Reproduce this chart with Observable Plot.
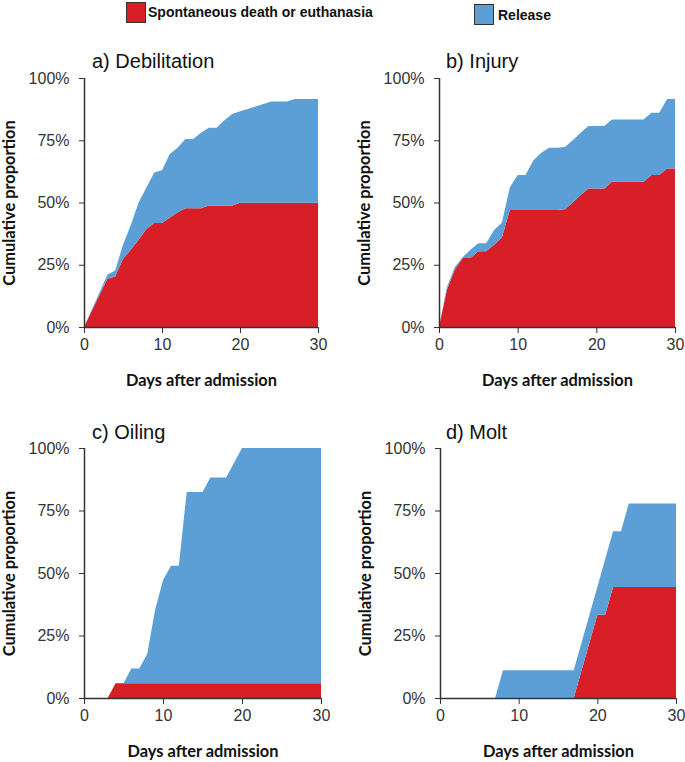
<!DOCTYPE html>
<html><head><meta charset="utf-8">
<script src="https://cdn.jsdelivr.net/npm/d3@7"></script>
<script src="https://cdn.jsdelivr.net/npm/@observablehq/plot@0.6"></script>
<style>
body{margin:0;background:#fff;}
#wrap{position:relative;width:685px;height:762px;overflow:hidden;font-family:"Liberation Sans",Arial,sans-serif;}
.panel{position:absolute;}
.title{position:absolute;font-size:20px;line-height:20px;color:#111;white-space:nowrap;}
.legtext{position:absolute;font-weight:bold;font-size:14px;line-height:14px;color:#111;white-space:nowrap;}
.sw{position:absolute;box-sizing:border-box;border:1.5px solid #333;}
g[aria-label="x-axis label"] text, g[aria-label="y-axis label"] text{font-family:Lato,"Liberation Sans",sans-serif !important;font-weight:bold !important;font-size:16.4px !important;fill:#111;}
</style>
</head><body>
<div id="wrap"></div>
<script>
const days = d3.range(0, 31);
const seriesNames = ["Spontaneous death or euthanasia", "Release"];
const colors = ["#d81e27", "#5b9fd6"];
const xTicks = [0, 10, 20, 30];
const yTicks = [0, 25, 50, 75, 100];
const titles = ["a) Debilitation", "b) Injury", "c) Oiling", "d) Molt"];

// a) Debilitation
const deathA = [0,6.5,13,19.4,20.3,27.4,31,35,39.4,41.8,41.8,44,46,47.7,47.7,47.7,48.8,48.8,48.8,48.8,49.9,49.9,49.9,49.9,49.9,49.9,49.9,49.9,49.9,49.9,49.9];
const totalA = [0,7,14,21,22.7,33,41,50,56,62,63,69.5,72,75.5,75.5,78,80,80,83,85.5,86.6,87.6,88.6,89.6,90.6,90.6,90.6,91.6,91.6,91.6,91.6];
// b) Injury
const deathB = [0,15,23,27.7,27.7,30.4,30.4,33,36,47,47,47,47,47,47,47,47.3,50,53,55.6,55.6,55.6,58.3,58.3,58.3,58.3,58.3,61,61,63.7,63.7];
const totalB = [0,16,24,28,31,33.6,33.6,39,42,56,61,61,67,70,72,72,72.3,75,78,80.7,80.7,80.7,83.3,83.3,83.3,83.3,83.3,86,86,91.6,91.6];
// c) Oiling
const deathC = [0,0,0,0,5.9,5.9,5.9,5.9,5.9,5.9,5.9,5.9,5.9,5.9,5.9,5.9,5.9,5.9,5.9,5.9,5.9,5.9,5.9,5.9,5.9,5.9,5.9,5.9,5.9,5.9,5.9];
const totalC = [0,0,0,0,5.9,5.9,11.8,11.8,17.6,35.3,47.1,52.9,52.9,82.4,82.4,82.4,88.2,88.2,88.2,94.1,100,100,100,100,100,100,100,100,100,100,100];
// d) Molt
const deathD = [0,0,0,0,0,0,0,0,0,0,0,0,0,0,0,0,0,0,11.1,22.2,33.3,33.3,44.4,44.4,44.4,44.4,44.4,44.4,44.4,44.4,44.4];
const totalD = [0,0,0,0,0,0,0,0,11.1,11.1,11.1,11.1,11.1,11.1,11.1,11.1,11.1,11.1,22.2,33.3,44.4,55.6,66.7,66.7,77.8,77.8,77.8,77.8,77.8,77.8,77.8];

function panelData(death, total) {
  return seriesNames.flatMap((s, i) => days.map((d, j) => ({
    day: d, series: s, value: i === 0 ? death[j] : total[j] - death[j]
  })));
}

const panels = [
  {death: deathA, total: totalA, left: 0,   top: 40,  width: 340, height: 360, ml: 84, mr: 22, mt: 38, mb: 73, tl: 92,  tt: 51},
  {death: deathB, total: totalB, left: 342, top: 40,  width: 343, height: 360, ml: 97, mr: 10, mt: 38, mb: 73, tl: 446, tt: 51},
  {death: deathC, total: totalC, left: 0,   top: 410, width: 340, height: 352, ml: 84, mr: 19, mt: 38, mb: 64, tl: 92,  tt: 422},
  {death: deathD, total: totalD, left: 342, top: 410, width: 343, height: 352, ml: 98, mr: 9,  mt: 38, mb: 64, tl: 446, tt: 422}
];

const wrap = document.getElementById("wrap");

panels.forEach((p, k) => {
  const chart = Plot.plot({
    width: p.width, height: p.height,
    marginLeft: p.ml, marginRight: p.mr, marginTop: p.mt, marginBottom: p.mb,
    style: {fontFamily: "'Liberation Sans', Arial, sans-serif", fontSize: "16px", color: "#333", background: "transparent", overflow: "visible"},
    x: {domain: [0, 30]},
    y: {domain: [0, 100]},
    color: {domain: seriesNames, range: colors},
    marks: [
      Plot.areaY(panelData(p.death, p.total), {x: "day", y: "value", fill: "series", curve: "linear"}),
      Plot.ruleX([0], {stroke: "#333", strokeWidth: 1.5}),
      Plot.ruleY([0], {stroke: "#333", strokeWidth: 1.5}),
      Plot.axisX({ticks: xTicks, tickSize: 6, tickPadding: 5, stroke: "#333", label: "Days after admission", labelAnchor: "center", labelArrow: "none", labelOffset: 58}),
      Plot.axisY({ticks: yTicks, tickFormat: d => d + "%", tickSize: 5, tickPadding: 10, stroke: "#333", label: "Cumulative proportion", labelAnchor: "center", labelArrow: "none", labelOffset: 81})
    ]
  });
  const div = document.createElement("div");
  div.className = "panel";
  div.style.left = p.left + "px";
  div.style.top = p.top + "px";
  div.appendChild(chart);
  wrap.appendChild(div);
  const t = document.createElement("div");
  t.className = "title";
  t.style.left = p.tl + "px";
  t.style.top = p.tt + "px";
  t.textContent = titles[k];
  wrap.appendChild(t);
});

// legend
const legendPos = [{sx: 126, sy: 2, tx: 148, ty: 5}, {sx: 474, sy: 4, tx: 498, ty: 8}];
seriesNames.forEach((s, i) => {
  const sw = document.createElement("div");
  sw.className = "sw";
  sw.style.left = legendPos[i].sx + "px";
  sw.style.top = legendPos[i].sy + "px";
  sw.style.width = "20px"; sw.style.height = "21px";
  sw.style.background = colors[i];
  wrap.appendChild(sw);
  const tx = document.createElement("div");
  tx.className = "legtext";
  tx.style.left = legendPos[i].tx + "px";
  tx.style.top = legendPos[i].ty + "px";
  tx.textContent = s;
  wrap.appendChild(tx);
});
</script>
</body></html>
